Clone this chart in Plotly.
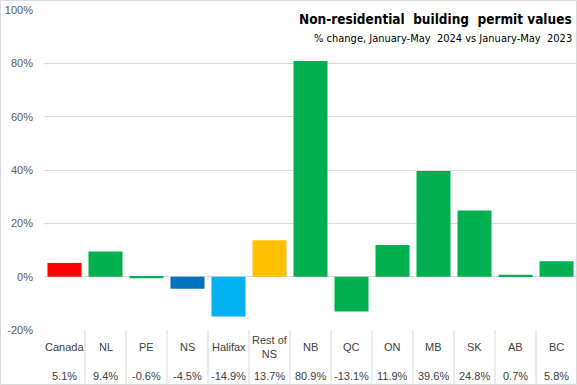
import plotly.graph_objects as go

categories = ["Canada", "NL", "PE", "NS", "Halifax", "Rest of NS", "NB", "QC", "ON", "MB", "SK", "AB", "BC"]
cat_labels = ["Canada", "NL", "PE", "NS", "Halifax", "Rest of<br>NS", "NB", "QC", "ON", "MB", "SK", "AB", "BC"]
values = [5.1, 9.4, -0.6, -4.5, -14.9, 13.7, 80.9, -13.1, 11.9, 39.6, 24.8, 0.7, 5.8]
colors = ["#FF0000", "#00B050", "#00B050", "#0070C0", "#00B0F0", "#FFC000",
          "#00B050", "#00B050", "#00B050", "#00B050", "#00B050", "#00B050", "#00B050"]
tick_vals = [-20, 0, 20, 40, 60, 80, 100]
tick_text = ["-20%", "0%", "20%", "40%", "60%", "80%", "100%"]

W, H = 577, 385
ml, mr, mt, mb = 44, 0, 10, 55
ph = H - mt - mb
pw = W - ml - mr

fig = go.Figure()
fig.add_trace(go.Bar(
    x=list(range(len(categories))), y=values, marker=dict(color=colors, line=dict(width=0)),
    width=0.83, hoverinfo="y", customdata=categories,
))

shapes = []
table_bottom = -(mb - 1) / ph
for i in range(1, len(categories) + 1):
    shapes.append(dict(type="line", xref="x", yref="paper", x0=i - 0.5, x1=i - 0.5,
                       y0=0, y1=table_bottom, line=dict(color="#D9D9D9", width=1)))
shapes.append(dict(type="rect", xref="paper", yref="paper",
                   x0=-(ml - 0.5) / pw, x1=1 - 0.5 / pw,
                   y0=-(mb - 0.5) / ph, y1=1 + (mt - 0.5) / ph,
                   line=dict(color="#D9D9D9", width=1)))

TF = "Liberation Sans, Arial"
annotations = []
for i, (lab, v) in enumerate(zip(cat_labels, values)):
    annotations.append(dict(x=i, y=-17 / ph, xref="x", yref="paper", text=lab, showarrow=False,
                            font=dict(size=11, color="#404040", family=TF),
                            yanchor="middle", xanchor="center"))
    annotations.append(dict(x=i, y=-46 / ph, xref="x", yref="paper", text=f"{v:.1f}%", showarrow=False,
                            font=dict(size=11, color="#404040", family=TF),
                            yanchor="middle", xanchor="center"))

HF = "DejaVu Sans Condensed, Lato, sans-serif"
annotations.append(dict(x=1 - 3 / pw, y=1 - 9 / ph, xref="paper", yref="paper", xanchor="right", yanchor="middle",
                        text="<b>Non-residential  building  permit values</b>", showarrow=False,
                        font=dict(size=13.5, color="#000000", family=HF)))
annotations.append(dict(x=1 - 3 / pw, y=1 - 28 / ph, xref="paper", yref="paper", xanchor="right", yanchor="middle",
                        text="% change, January-May  2024 vs January-May  2023", showarrow=False,
                        font=dict(size=11, color="#000000", family=HF)))

fig.update_layout(
    width=W, height=H, margin=dict(l=ml, r=mr, t=mt, b=mb),
    paper_bgcolor="white", plot_bgcolor="white", showlegend=False,
    xaxis=dict(range=[-0.5, len(categories) - 0.5], showticklabels=False, showgrid=False,
               zeroline=False, showline=False, fixedrange=True),
    yaxis=dict(range=[-20, 100], tickvals=tick_vals, ticktext=tick_text, showgrid=True,
               gridcolor="#D9D9D9", gridwidth=1, zeroline=False, showline=False,
               tickfont=dict(size=11, color="#595959", family=TF),
               ticklabelstandoff=10, fixedrange=True),
    shapes=shapes, annotations=annotations,
    font=dict(family=TF),
)

fig.write_html("out.html", config={"displayModeBar": False},
               post_script="document.body.style.margin='0';document.body.style.overflow='hidden';")
